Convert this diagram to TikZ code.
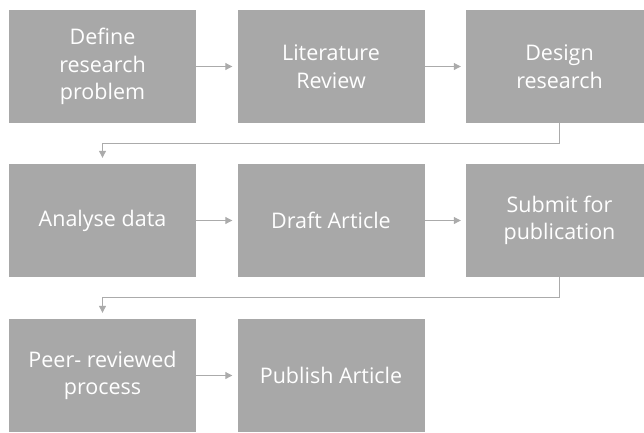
\documentclass[tikz,border=0pt]{standalone}
\usepackage{fontspec}
\setmainfont{Open Sans}
\usetikzlibrary{arrows.meta, calc}
\definecolor{boxgray}{HTML}{A8A8A8}
\definecolor{linegray}{HTML}{ABABAB}
\tikzset{
  stage/.style = {fill=boxgray, text=white, align=center, inner sep=0pt,
                  minimum width=187pt, minimum height=113pt,
                  font=\fontsize{21.5}{27.5}\selectfont},
  ar/.style    = {-{Triangle[length=7pt, width=7pt]}, draw=linegray,
                  line width=1pt},
}

\begin{document}
\begin{tikzpicture}[x=1pt, y=-1pt]
  \clip (0,0) rectangle (644,432);
  \node[stage] (s1) at (102.5,66.5)  {Define\\research\\problem};
  \node[stage] (s2) at (331,66.5)    {Literature\\Review};
  \node[stage] (s3) at (559.5,66.5)  {Design\\research};
  \node[stage] (s4) at (102.5,220.5) {Analyse data};
  \node[stage] (s5) at (331,220.5)   {Draft Article};
  \node[stage] (s6) at (559.5,220.5) {Submit for\\publication};
  \node[stage] (s7) at (102.5,375.5) {Peer- reviewed\\process};
  \node[stage] (s8) at (331,375.5)   {Publish Article};
  \draw[ar, shorten >=5pt] (s1) -- (s2);
  \draw[ar, shorten >=5pt] (s2) -- (s3);
  \draw[ar, shorten >=5pt] (s4) -- (s5);
  \draw[ar, shorten >=5pt] (s5) -- (s6);
  \draw[ar, shorten >=5pt] (s7) -- (s8);
  \draw[ar, shorten >=6pt] (s3.south) -- ++(0,20) -| (s4.north);
  \draw[ar, shorten >=6pt] (s6.south) -- ++(0,20) -| (s7.north);
\end{tikzpicture}
\end{document}
